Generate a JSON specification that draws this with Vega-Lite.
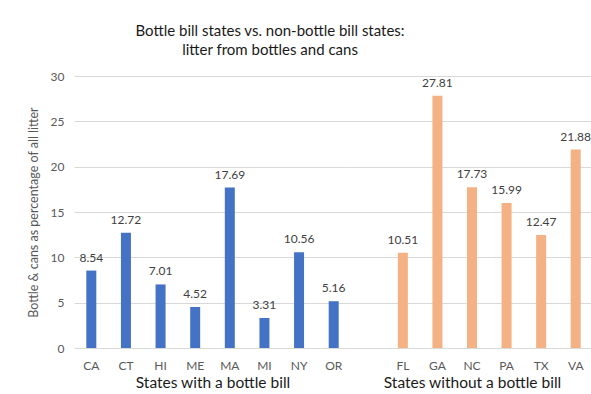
{
  "$schema": "https://vega.github.io/schema/vega-lite/v6.json",
  "datasets": {
    "bottle": [
      {"state": "CA", "pct": 8.54},
      {"state": "CT", "pct": 12.72},
      {"state": "HI", "pct": 7.01},
      {"state": "ME", "pct": 4.52},
      {"state": "MA", "pct": 17.69},
      {"state": "MI", "pct": 3.31},
      {"state": "NY", "pct": 10.56},
      {"state": "OR", "pct": 5.16}
    ],
    "nobottle": [
      {"state": "FL", "pct": 10.51},
      {"state": "GA", "pct": 27.81},
      {"state": "NC", "pct": 17.73},
      {"state": "PA", "pct": 15.99},
      {"state": "TX", "pct": 12.47},
      {"state": "VA", "pct": 21.88}
    ]
  },
  "padding": {"left": 27, "top": 24, "right": 0, "bottom": 2},
  "spacing": 0,
  "background": "white",
  "config": {
    "font": "Lato",
    "view": {"stroke": null},
    "axis": {"gridColor": "#D9D9D9", "gridWidth": 1, "domain": false, "ticks": false, "labelColor": "#595959", "labelFontSize": 12, "labelFont": "Lato"},
    "axisX": {"labelAngle": 0, "labelPadding": 12, "titleFontSize": 15.5, "titleFontWeight": "normal", "titleColor": "#1a1a1a", "titlePadding": 4, "grid": false},
    "axisY": {"titleFontSize": 12.5, "titleFontWeight": "normal", "titleColor": "#595959", "titlePadding": 10, "labelPadding": 10}
  },
  "title": {
    "text": ["Bottle bill states vs. non-bottle bill states:", "litter from bottles and cans"],
    "anchor": "middle",
    "fontSize": 15,
    "fontWeight": "normal",
    "color": "#1a1a1a",
    "lineHeight": 19,
    "offset": 12,
    "dx": -40
  },
  "hconcat": [
    {
      "data": {"name": "bottle"},
      "width": 277,
      "height": 272,
      "encoding": {
        "x": {"field": "state", "type": "nominal", "sort": null, "scale": {"paddingInner": 0, "paddingOuter": 0}, "axis": {"title": "States with a bottle bill"}},
        "y": {"field": "pct", "type": "quantitative", "scale": {"domain": [0, 30]}, "axis": {"title": "Bottle & cans as percentage of all litter", "values": [0, 5, 10, 15, 20, 25, 30]}}
      },
      "layer": [
        {"mark": {"type": "bar", "size": 10, "color": "#4472C4"}},
        {"mark": {"type": "text", "baseline": "bottom", "dy": -6, "fontSize": 12, "color": "#404040"}, "encoding": {"text": {"field": "pct", "type": "quantitative", "format": ".2f"}}}
      ]
    },
    {
      "data": {"name": "nobottle"},
      "width": 242,
      "height": 272,
      "encoding": {
        "x": {"field": "state", "type": "nominal", "scale": {"domain": [" ", "FL", "GA", "NC", "PA", "TX", "VA"], "paddingInner": 0, "paddingOuter": 0}, "axis": {"title": "States without a bottle bill"}},
        "y": {"field": "pct", "type": "quantitative", "scale": {"domain": [0, 30]}, "axis": {"title": null, "labels": false, "values": [0, 5, 10, 15, 20, 25, 30]}}
      },
      "layer": [
        {"mark": {"type": "bar", "size": 10, "color": "#F4B183"}},
        {"mark": {"type": "text", "baseline": "bottom", "dy": -6, "fontSize": 12, "color": "#404040"}, "encoding": {"text": {"field": "pct", "type": "quantitative", "format": ".2f"}}}
      ]
    }
  ]
}
